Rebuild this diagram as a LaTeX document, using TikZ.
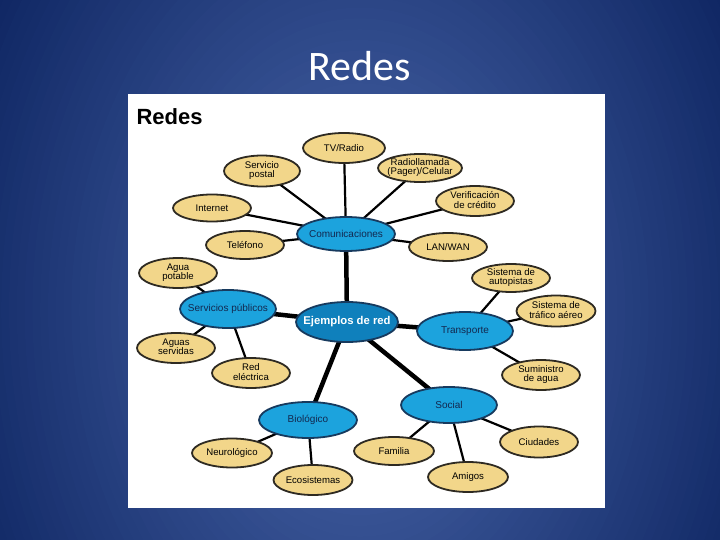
\documentclass[tikz,border=0pt]{standalone}
\usepackage{fontspec}
\setmainfont{Liberation Sans}
\newfontfamily\titlefont{Carlito}
\usetikzlibrary{shapes.geometric}
\definecolor{bgin}{HTML}{4C69AD}
\definecolor{bgout}{HTML}{0A215D}
\definecolor{leaffill}{HTML}{F2D68A}
\definecolor{leafdraw}{HTML}{2E2A22}
\definecolor{hubfill}{HTML}{1CA3DD}
\definecolor{hubdraw}{HTML}{173A5E}
\definecolor{rootfill}{HTML}{0F80BC}
\definecolor{hubtext}{HTML}{13284F}
\newcommand\zb[1]{\makebox[0pt]{#1}}
\newcommand\zt[2]{\makebox[0pt]{\begin{tabular}{@{}c@{}}#1\\#2\end{tabular}}}
\renewcommand\arraystretch{0.92}
\pgfdeclarelayer{bg}
\pgfdeclarelayer{edges}
\pgfsetlayers{bg,edges,main}
\tikzset{
  leaf/.style={ellipse, draw=leafdraw, line width=1.8pt, fill=leaffill, inner sep=0pt,
    font=\fontsize{9.6}{10.6}\selectfont, text=black},
  hub/.style={ellipse, draw=hubdraw, line width=1.8pt, fill=hubfill, inner sep=0pt,
    font=\fontsize{10}{11}\selectfont, text=hubtext},
  root/.style={ellipse, draw=hubdraw, line width=1.8pt, fill=rootfill, inner sep=0pt,
    font=\bfseries\fontsize{11.3}{12}\selectfont, text=white},
  thin/.style={line width=2.2pt, black},
  thick/.style={line width=4.5pt, black},
}
\begin{document}
\begin{tikzpicture}[x=1pt,y=-1pt]
\useasboundingbox (0,0) rectangle (720,540);
\begin{pgfonlayer}{bg}
  \begin{scope}
    \clip (0,0) rectangle (720,540);
    \fill[bgout] (0,0) rectangle (720,540);
    \foreach \i in {0,...,59}{
      \pgfmathsetmacro\f{0.9*(1-\i/60)}
      \pgfmathsetmacro\p{100*\i/60}
      \fill[bgin!\p!bgout] (360,310) ellipse [x radius=\f*520pt, y radius=\f*720pt];
    }
  \end{scope}
  \fill[white] (128,94) rectangle (605,508);
\end{pgfonlayer}
\node[text=white, font=\titlefont\fontsize{42}{46}\selectfont] (title) at (360,66) {Redes};
\node[anchor=west, font=\bfseries\fontsize{22}{24}\selectfont, text=black] (panelhead) at (133,117) {Redes};

% hubs
\node[root, minimum width=102pt, minimum height=40pt] (root) at (347,322) {\zb{Ejemplos de red}};
\node[hub, minimum width=98pt, minimum height=34pt] (com) at (346,234) {\zb{Comunicaciones}};
\node[hub, minimum width=96pt, minimum height=38pt] (serv) at (228,309) {\zb{Servicios públicos}};
\node[hub, minimum width=96pt, minimum height=38pt] (trans) at (465,331) {\zb{Transporte}};
\node[hub, minimum width=98pt, minimum height=36pt] (bio) at (308,420) {\zb{Biológico}};
\node[hub, minimum width=96pt, minimum height=36pt] (soc) at (449,405) {\zb{Social}};

% leaves
\node[leaf, minimum width=82pt, minimum height=30pt] (tv) at (344,148) {\zb{TV/Radio}};
\node[leaf, minimum width=76pt, minimum height=31pt] (post) at (262,171) {\zt{Servicio}{postal}};
\node[leaf, minimum width=78pt, minimum height=27pt] (inet) at (212,208) {\zb{Internet}};
\node[leaf, minimum width=78pt, minimum height=28pt] (tel) at (245,245) {\zb{Teléfono}};
\node[leaf, minimum width=84pt, minimum height=28pt] (radio) at (420,168) {\zt{Radiollamada}{(Pager)/Celular}};
\node[leaf, minimum width=78pt, minimum height=30pt] (cred) at (475,201) {\zt{Verificación}{de crédito}};
\node[leaf, minimum width=78pt, minimum height=28pt] (lan) at (448,247) {\zb{LAN/WAN}};
\node[leaf, minimum width=78pt, minimum height=30pt] (agua) at (178,273) {\zt{Agua}{potable}};
\node[leaf, minimum width=78pt, minimum height=30pt] (aguas) at (176,348) {\zt{Aguas}{servidas}};
\node[leaf, minimum width=78pt, minimum height=30pt] (red) at (251,373) {\zt{Red}{eléctrica}};
\node[leaf, minimum width=78pt, minimum height=28pt] (auto) at (511,278) {\zt{Sistema de}{autopistas}};
\node[leaf, minimum width=79pt, minimum height=31pt] (aereo) at (556,311) {\zt{Sistema de}{tráfico aéreo}};
\node[leaf, minimum width=78pt, minimum height=30pt] (sum) at (541,375) {\zt{Suministro}{de agua}};
\node[leaf, minimum width=80pt, minimum height=29pt] (neuro) at (232,453) {\zb{Neurológico}};
\node[leaf, minimum width=79pt, minimum height=30pt] (eco) at (313,480) {\zb{Ecosistemas}};
\node[leaf, minimum width=80pt, minimum height=28pt] (fam) at (394,451) {\zb{Familia}};
\node[leaf, minimum width=80pt, minimum height=30pt] (ami) at (468,477) {\zb{Amigos}};
\node[leaf, minimum width=78pt, minimum height=31pt] (ciu) at (539,442) {\zb{Ciudades}};

\begin{pgfonlayer}{edges}
  \draw[thick] (root.center) -- (com.center);
  \draw[thick] (root.center) -- (serv.center);
  \draw[thick] (root.center) -- (trans.center);
  \draw[thick] (root.center) -- (bio.center);
  \draw[thick] (root.center) -- (soc.center);
  \draw[thin] (com.center) -- (tv.center);
  \draw[thin] (com.center) -- (post.center);
  \draw[thin] (com.center) -- (inet.center);
  \draw[thin] (com.center) -- (tel.center);
  \draw[thin] (com.center) -- (radio.center);
  \draw[thin] (com.center) -- (cred.center);
  \draw[thin] (com.center) -- (lan.center);
  \draw[thin] (serv.center) -- (agua.center);
  \draw[thin] (serv.center) -- (aguas.center);
  \draw[thin] (serv.center) -- (red.center);
  \draw[thin] (trans.center) -- (auto.center);
  \draw[thin] (trans.center) -- (aereo.center);
  \draw[thin] (trans.center) -- (sum.center);
  \draw[thin] (bio.center) -- (neuro.center);
  \draw[thin] (bio.center) -- (eco.center);
  \draw[thin] (soc.center) -- (fam.center);
  \draw[thin] (soc.center) -- (ami.center);
  \draw[thin] (soc.center) -- (ciu.center);
\end{pgfonlayer}
\end{tikzpicture}
\end{document}
